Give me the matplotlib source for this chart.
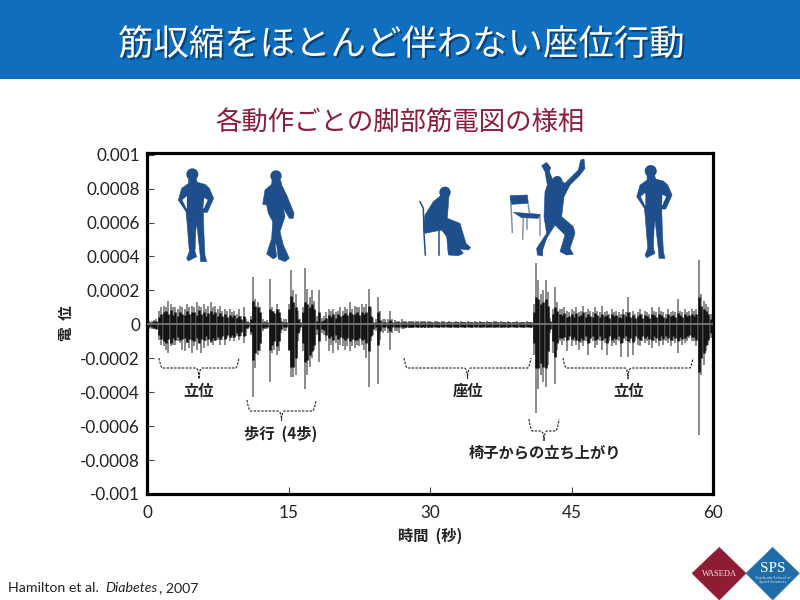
import numpy as np
import matplotlib
matplotlib.use('Agg')
import matplotlib.pyplot as plt
import matplotlib.patheffects as pe
from matplotlib.patches import Polygon, Ellipse, Rectangle, PathPatch
from matplotlib.path import Path

plt.rcParams['font.family'] = ['Noto Sans CJK JP', 'DejaVu Sans']

# EMG envelope, one value every 0.25 s, unit 1e-4
emg_upper = [
    .2, .2, .2, .25, .3, .8, 1.0, 1.1, 1.0, 1.4, 1.2, 1.0, 1.0, .9, 1.1, 1.0,
    .9, 1.2, 1.0, 1.1, 1.0, 1.3, 1.1, 1.0, 1.2, .9, 1.1, 1.3, 1.0, 1.1, .9, 1.1,
    .8, .9, .8, .9, .7, .8, .6, .9, .5, 1.0, .3, .2, .5, 2.8, 1.5, 1.3,
    1.0, .3, .2, .25, 2.7, 1.0, .8, 1.2, .9, .4, .3, .3, 1.2, 3.2, 2.0, 1.8,
    .8, .3, 1.0, 3.3, 2.1, 1.6, 2.0, 1.4, .5, 2.0, .4, .5, .7, .9, .8, .9,
    .7, .8, 1.0, .8, 1.0, .9, 1.3, .9, 1.1, 1.0, 1.0, 1.2, 1.0, 1.2, 2.1, 1.0,
    .4, .3, 1.6, .8, .3, .3, .3, .8, .3, .25, .2, .2, .3, .2, .2, .2,
    .2, .18, .18, .2, .18, .18, .2, .18, .18, .15, .18, .18, .15, .18, .18, .15,
    .18, .15, .15, .18, .15, .18, .15, .15, .18, .15, .15, .18, .15, .2, .15, .15,
    .18, .15, .15, .18, .2, .15, .18, .15, .15, .18, .15, .15, .15, .18, .15, .15,
    .15, .18, .15, .15, 1.2, 3.6, 2.6, 1.8, 2.0, 2.6, 1.9, .4, .9, 2.2, 1.3, .9,
    .9, 1.0, .8, .7, .9, .8, 1.0, .7, .8, 1.1, .7, .9, .8, .7, 1.0, .8,
    .7, 1.1, .7, .8, .6, .9, .7, .8, .7, .6, .9, .7, 1.6, .7, .8, .6,
    .7, .9, .6, .8, .7, .6, 1.0, .8, .7, 1.0, .8, .7, .6, .9, .7, .8,
    .7, 1.5, .8, .7, .9, .7, .8, .9, .8, .9, 3.8, 1.8, 1.4, 1.2, 1.0, .6,
    .3]
emg_lower = [
    .2, .25, .3, .3, .3, .9, 1.2, 1.3, 1.5, 1.7, 1.3, 1.2, 1.2, 1.0, 1.1, 1.5,
    1.6, 1.1, 1.4, 1.7, 1.3, 1.5, 1.1, 1.7, 1.4, 1.0, 1.3, 1.1, 1.2, 1.0, .9, 1.2,
    .9, 1.2, .8, 1.0, .8, 1.0, .7, .9, .7, 1.1, .7, .3, .6, 4.3, 2.6, 1.8,
    1.6, .4, .3, .3, 3.4, 1.7, 1.5, 1.8, 1.6, .5, .4, .4, 1.5, 3.1, 3.1, 3.0,
    1.0, .4, 1.6, 3.8, 3.0, 2.5, 2.0, 1.5, .6, 2.2, .5, .6, 1.0, 1.6, 1.2, 1.7,
    1.1, 1.5, 1.2, 1.3, 1.5, 1.3, 1.6, 1.3, 1.4, 1.2, 1.3, 1.2, 1.5, 2.0, 3.7, 1.0,
    .6, .4, 3.5, .9, .5, .4, .5, 1.5, .5, .4, .4, .5, .3, .3, .2, .2,
    .2, .2, .18, .2, .2, .18, .2, .2, .18, .2, .18, .18, .2, .18, .18, .18,
    .18, .2, .18, .18, .2, .18, .18, .2, .18, .18, .2, .18, .18, .2, .18, .18,
    .2, .18, .18, .2, .18, .18, .2, .18, .18, .2, .18, .18, .18, .2, .18, .18,
    .2, .18, .18, .2, 1.8, 5.2, 3.8, 3.0, 3.4, 3.7, 2.4, .5, 1.7, 3.5, 1.5, 1.0,
    1.2, 1.0, 1.6, .9, 1.3, 1.0, 1.2, 1.5, 1.1, 1.3, 1.0, 1.8, 1.1, 1.0, 1.4, 1.2,
    1.0, 1.5, 1.1, 1.8, 1.0, 1.3, 1.1, 1.2, 1.0, 1.9, 1.1, 1.0, 1.9, 1.1, 1.8, 1.0,
    1.2, 1.3, 1.0, 1.1, 1.0, 1.2, 1.4, 1.0, 1.1, 1.3, 1.0, 1.2, 1.0, 1.1, 1.3, 1.0,
    1.1, 1.7, 1.0, 1.2, 1.1, 1.0, .8, 1.0, 1.0, 1.3, 6.5, 3.0, 2.4, 1.6, 1.2, .8,
    .3]
# dense dark part of the trace, same time steps
core_upper = [
    .15, .15, .15, .18, .2, .45, .6, .7, .8, .6, .85, .55, .7, .5, .75, .6,
    .55, .8, .6, .7, .75, .55, .85, .6, .7, .5, .65, .8, .6, .7, .5, .65,
    .5, .6, .45, .55, .45, .55, .35, .5, .3, .5, .15, .12, .3, 1.4, 1.1, 1.0,
    .7, .15, .12, .12, .9, .8, .65, .9, .7, .2, .12, .12, .9, 1.7, 1.3, 1.0,
    .3, .12, .7, 1.3, 1.2, 1.0, 1.2, .9, .2, .7, .2, .25, .4, .55, .45, .6,
    .4, .6, .5, .55, .65, .55, .7, .6, .6, .7, .55, .7, .6, .75, 1.1, .5,
    .15, .12, .7, .25, .12, .12, .15, .25, .12, .12, .12, .12, .13, .12, .12, .12,
    .12, .12, .12, .12, .12, .13, .12, .12, .12, .12, .12, .12, .12, .12, .13, .12,
    .12, .12, .12, .12, .12, .12, .12, .13, .12, .12, .12, .12, .13, .12, .12, .12,
    .12, .12, .12, .13, .12, .12, .12, .12, .12, .13, .12, .12, .12, .12, .12, .12,
    .12, .12, .13, .12, .7, 1.6, 1.5, 1.2, 1.3, 1.5, 1.1, .2, .6, 1.0, .8, .6,
    .55, .65, .45, .5, .6, .45, .65, .5, .55, .7, .45, .6, .5, .45, .65, .55,
    .45, .6, .5, .55, .4, .6, .5, .55, .45, .4, .6, .5, .7, .45, .55, .4,
    .5, .6, .4, .55, .5, .4, .6, .55, .45, .6, .55, .45, .4, .6, .5, .55,
    .45, .65, .55, .45, .6, .5, .55, .6, .5, .6, 1.6, 1.1, .9, .8, .6, .3,
    .12]
core_lower = [
    .15, .15, .18, .2, .25, .65, .85, 1.0, 1.1, .85, 1.1, .8, .9, .75, .95, .85,
    .8, 1.05, .85, .95, 1.0, .8, 1.1, .85, .9, .7, .85, 1.0, .8, .9, .75, .85,
    .7, .85, .65, .75, .6, .75, .5, .7, .45, .7, .2, .15, .45, 2.1, 1.7, 1.5,
    1.1, .2, .15, .15, 1.5, 1.2, 1.0, 1.3, 1.0, .25, .15, .15, 1.5, 2.5, 2.5, 2.0,
    .5, .15, 1.1, 2.2, 2.1, 1.8, 1.6, 1.2, .3, 1.0, .3, .35, .6, .8, .7, .9,
    .65, .85, .75, .8, .95, .8, 1.0, .85, .9, .95, .8, .9, .85, 1.1, 1.6, .7,
    .25, .15, 1.2, .4, .15, .15, .2, .4, .15, .15, .15, .15, .16, .15, .15, .15,
    .15, .15, .15, .15, .15, .16, .15, .15, .15, .15, .15, .15, .15, .15, .16, .15,
    .15, .15, .15, .15, .15, .15, .15, .16, .15, .15, .15, .15, .16, .15, .15, .15,
    .15, .15, .15, .16, .15, .15, .15, .15, .15, .16, .15, .15, .15, .15, .15, .15,
    .15, .15, .16, .15, 1.1, 2.6, 2.6, 2.3, 2.5, 2.6, 1.6, .3, 1.0, 1.9, 1.1, .8,
    .8, .75, .95, .7, .85, .75, .9, 1.0, .8, .95, .7, 1.1, .8, .7, .95, .85,
    .7, .95, .8, 1.1, .7, .9, .8, .85, .7, 1.1, .8, .7, 1.0, .8, 1.05, .7,
    .8, .9, .7, .8, .7, .85, .95, .7, .8, .9, .7, .85, .7, .8, .9, .7,
    .8, 1.0, .75, .85, .8, .7, .6, .75, .75, .9, 2.8, 2.0, 1.7, 1.2, .9, .5,
    .15]
emg_time = np.arange(len(emg_upper)) * 0.25

x_ticks = [0, 15, 30, 45, 60]
y_ticks = [-0.001, -0.0008, -0.0006, -0.0004, -0.0002, 0, 0.0002, 0.0004, 0.0006, 0.0008, 0.001]
y_labels = ['-0.001', '-0.0008', '-0.0006', '-0.0004', '-0.0002', '0',
            '0.0002', '0.0004', '0.0006', '0.0008', '0.001']

fig = plt.figure(figsize=(8, 6), dpi=100)


# everything outside the axes is placed in the reference's pixel coordinates
def px(x, y):
    return x / 800, 1 - y / 600


def label(x, y, s, size=11, **kw):
    kw.setdefault('ha', 'center')
    kw.setdefault('va', 'center')
    kw.setdefault('zorder', 8)
    return fig.text(*px(x, y), s, fontsize=size, **kw)


def poly(points, color='#1f4e8c', ox=0, oy=0, z=5):
    pts = [px(ox + p[0] / 3, oy + p[1] / 3) for p in points]
    fig.add_artist(Polygon(pts, closed=True, fc=color, ec=color, lw=0.4,
                           transform=fig.transFigure, zorder=z))


def head(x, y, r, ox=0, oy=0):
    cx, cy = px(ox + x / 3, oy + y / 3)
    fig.add_artist(Ellipse((cx, cy), 2 * r / 3 / 800, 2 * r / 3 / 600, fc='#1f4e8c', ec='none',
                           transform=fig.transFigure, zorder=5))


def stick(points, ox, oy, color='#8492a6', lw=1.1):
    xs, ys = zip(*[px(ox + p[0] / 3, oy + p[1] / 3) for p in points])
    fig.add_artist(plt.Line2D(xs, ys, color=color, lw=lw, transform=fig.transFigure, zorder=4))


def bracket(x0, x1, y0, y1, tip):
    mid = (x0 + x1) / 2
    r = 3
    verts = [(x0, y0), (x0 + 1, y1 - r), (x0 + r, y1), (mid - 3, y1), (mid, y1 + 1), (mid, tip),
             (mid, y1 + 1), (mid + 3, y1), (x1 - r, y1), (x1 - 1, y1 - r), (x1, y0)]
    codes = [Path.MOVETO, Path.CURVE3, Path.CURVE3, Path.LINETO, Path.CURVE3, Path.CURVE3,
             Path.CURVE3, Path.CURVE3, Path.LINETO, Path.CURVE3, Path.CURVE3]
    fig.add_artist(PathPatch(Path([px(*v) for v in verts], codes), fc='none', ec='#222222', lw=0.8,
                             ls=(0, (2.2, 1.2)), transform=fig.transFigure, zorder=6))


# header
fig.add_artist(Rectangle((0, 1 - 79 / 600), 1, 79 / 600, fc='#0f6fbe', ec='none',
                         transform=fig.transFigure, zorder=0))
label(401, 45, '筋収縮をほとんど伴わない座位行動', size=25.5, color='white',
      path_effects=[pe.withSimplePatchShadow(offset=(1.5, -1.5), shadow_rgbFace='#06396b', alpha=0.8)])
label(400, 123, '各動作ごとの脚部筋電図の様相', size=19, color='#8c1c3c')

# chart
ax = fig.add_axes([147 / 800, 1 - 494 / 600, (713 - 147) / 800, (494 - 153) / 600])
up = np.array(emg_upper) * 1e-4
low = -np.array(emg_lower) * 1e-4
ax.vlines(emg_time, low, up, color='#4a4a4a', lw=1.2, alpha=0.75, zorder=2)
ax.vlines(emg_time, -np.array(core_lower) * 1e-4, np.array(core_upper) * 1e-4,
          color='#111111', lw=1.8, zorder=3)
ax.axhline(0, color='#777777', lw=1.3, zorder=4)

ax.set_xlim(0, 60)
ax.set_ylim(-0.001, 0.00101)
ax.set_xticks(x_ticks)
ax.set_yticks(y_ticks)
ax.set_xticklabels([str(v) for v in x_ticks], family='Lato', fontsize=12.3, color='#222222')
ax.set_yticklabels(y_labels, family='Lato', fontsize=12.3, color='#222222')
ax.tick_params(axis='both', direction='in', length=5, width=0.8, color='#444444')
ax.tick_params(axis='y', pad=5)
ax.tick_params(axis='x', pad=8)
for s in ax.spines.values():
    s.set_linewidth(2.3)

label(66, 323, '電  位', size=10.5, rotation=90, fontweight='bold', color='#222222')
label(430, 536, '時間  (秒)', size=11, fontweight='bold', color='#222222')

# activity labels and brackets
bracket(159, 239, 358, 368, 379)
label(199, 391, '立位', fontweight='bold', color='#222222')
bracket(247, 316, 400, 411, 421)
label(281, 434, '歩行  (4歩)', size=11, fontweight='bold', color='#222222')
bracket(404, 531, 358, 368, 379)
label(468, 391, '座位', fontweight='bold', color='#222222')
bracket(563, 693, 358, 368, 379)
label(629, 391, '立位', fontweight='bold', color='#222222')
bracket(529, 559, 419, 431, 441)
label(545, 452, '椅子からの立ち上がり', fontweight='bold', color='#222222')

# silhouettes, outlines traced in 3x zoom coordinates
standing = [(116, 70), (138, 70), (142, 82), (165, 88), (178, 100), (191, 130), (172, 172), (160, 172),
            (162, 240), (165, 300), (170, 320), (152, 320), (150, 295), (140, 205), (137, 230), (135, 290),
            (140, 305), (115, 318), (110, 310), (118, 290), (110, 190), (108, 170), (85, 135), (95, 100),
            (116, 85)]
for ox, oy in ((150, 155), (608.4, 151.7)):
    poly(standing, ox=ox, oy=oy)
    head(127, 58, 18, ox=ox, oy=oy)
    poly([(163, 130), (172, 135), (161, 160)], color='white', ox=ox, oy=oy, z=6)
    poly([(98, 135), (110, 125), (110, 160)], color='white', ox=ox, oy=oy, z=6)

walking = [(366, 76), (392, 76), (395, 90), (410, 120), (432, 175), (430, 190), (418, 190), (400, 160),
           (405, 185), (390, 230), (400, 270), (418, 310), (405, 320), (385, 312), (380, 270), (375, 265),
           (380, 305), (370, 312), (350, 297), (365, 250), (368, 200), (355, 175), (350, 150), (338, 148),
           (345, 105), (365, 88)]
poly(walking, ox=150, oy=155)
head(378, 63, 17, ox=150, oy=155)

sitting = [(872, 122), (897, 122), (892, 190), (930, 205), (948, 265), (962, 278), (955, 285), (930, 282),
           (940, 295), (925, 302), (895, 300), (890, 245), (875, 225), (825, 235), (820, 220), (825, 180),
           (850, 140)]
poly(sitting, ox=150, oy=155)
head(885, 112, 17, ox=150, oy=155)
stick([(810, 140), (820, 160), (822, 235), (826, 300)], 150, 155, color='#1f4e8c')
stick([(868, 225), (868, 300)], 150, 155, color='#1f4e8c')

jumping = [(155, 32), (170, 22), (182, 38), (178, 50), (190, 78), (215, 78), (225, 85), (265, 45), (272, 15),
           (282, 12), (285, 40), (270, 60), (240, 90), (222, 125), (215, 185), (250, 215), (255, 235),
           (240, 280), (250, 298), (230, 300), (210, 290), (225, 240), (195, 210), (170, 250), (158, 285),
           (158, 303), (142, 300), (140, 280), (170, 235), (162, 185), (165, 110), (172, 90), (165, 50)]
poly(jumping, ox=490, oy=155)
head(202, 78, 15, ox=490, oy=155)
for leg in ([(62, 130), (67, 232)], [(100, 190), (98, 252)], [(150, 180), (150, 240)],
            [(115, 150), (118, 172)], [(112, 190), (112, 222)]):
    stick(leg, 490, 155)
poly([(60, 122), (112, 120), (115, 145), (65, 148)], ox=490, oy=155)
poly([(70, 172), (150, 178), (145, 190), (95, 188)], ox=490, oy=155)

# citation
label(8, 588, 'Hamilton et al.', size=10.2, ha='left', family='Lato', color='#222222')
label(105, 588, 'Diabetes', size=10.2, ha='left', family='Lato', style='italic', color='#222222')
label(159, 588, ', 2007', size=10.2, ha='left', family='Lato', color='#222222')

# logos
poly([(96, 130), (178, 52), (258, 130), (178, 210)], color='#8e1c32', ox=660, oy=530)
poly([(258, 130), (338, 52), (418, 130), (338, 210)], color='#1f6ca8', ox=660, oy=530)
label(719, 574, 'WASEDA', size=6, color='#f0dede', family='Liberation Serif')
label(773, 569, 'SPS', size=11, color='white', family='Liberation Serif')
label(773, 580, 'Graduate School of\nSport Sciences', size=2.8, color='#dce8f3', linespacing=1)

fig.savefig('out.png', dpi=100)
